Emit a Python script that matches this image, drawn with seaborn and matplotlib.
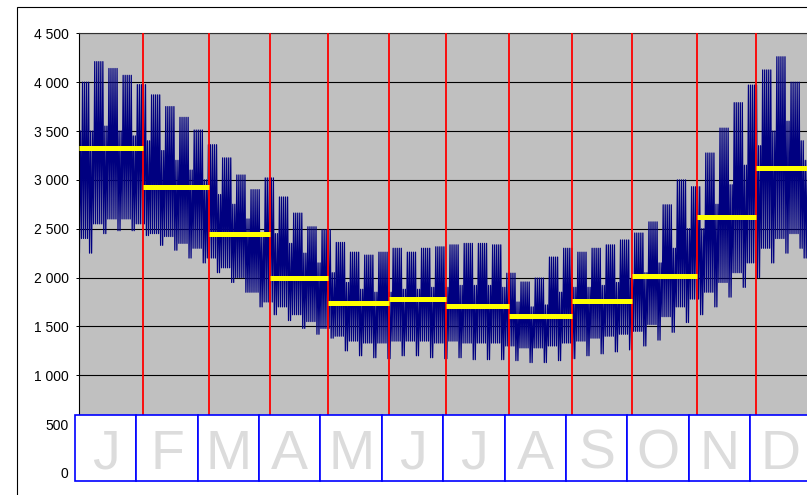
import numpy as np
import pandas as pd
import matplotlib
matplotlib.use("Agg")
import matplotlib.pyplot as plt
from matplotlib.patches import Rectangle
from matplotlib.ticker import FuncFormatter, MultipleLocator
import seaborn as sns

# weekly envelope of the hourly load (53 weeks, Mon-Sun)
wk_hi = [4000, 4210, 4140, 4070, 3975, 3870, 3750, 3640, 3510, 3360, 3225, 3050, 2900,
         3020, 2825, 2660, 2520, 2490, 2360, 2260, 2230, 2260, 2300, 2260, 2300, 2315,
         2335, 2350, 2350, 2335, 2045, 1955, 1995, 2210, 2300, 2260, 2300, 2335, 2385,
         2456, 2570, 2745, 3000, 2930, 3275, 3530, 3790, 3970, 4125, 4260, 4000, 3685, 3600]
wk_lo = [2400, 2550, 2600, 2600, 2550, 2450, 2420, 2350, 2300, 2200, 2100, 2000, 1850,
         1750, 1700, 1620, 1550, 1480, 1400, 1350, 1330, 1330, 1350, 1350, 1350, 1330,
         1350, 1330, 1330, 1330, 1300, 1280, 1280, 1300, 1330, 1350, 1380, 1400, 1420,
         1450, 1520, 1600, 1700, 1780, 1850, 1950, 2050, 2150, 2300, 2400, 2450, 2350, 2350]
we_hi = [3500, 3550, 3500, 3450, 3400, 3300, 3200, 3100, 3000, 2850, 2750, 2600, 2450,
         2450, 2350, 2250, 2150, 2050, 1950, 1880, 1850, 1850, 1880, 1880, 1900, 1900,
         1920, 1920, 1920, 1900, 1750, 1700, 1720, 1850, 1900, 1900, 1920, 1950, 1980,
         2050, 2150, 2300, 2500, 2500, 2750, 2950, 3150, 3350, 3500, 3600, 3400, 3200, 3200]
we_lo = [2250, 2450, 2480, 2480, 2430, 2330, 2280, 2200, 2150, 2050, 1950, 1850, 1700,
         1620, 1560, 1480, 1420, 1380, 1250, 1200, 1180, 1170, 1200, 1200, 1180, 1170,
         1180, 1160, 1160, 1160, 1150, 1130, 1130, 1150, 1170, 1200, 1220, 1240, 1260,
         1300, 1360, 1440, 1540, 1620, 1700, 1800, 1900, 2000, 2150, 2250, 2300, 2200, 2200]
holidays = [0, 357, 358]

months = ["J", "F", "M", "A", "M", "J", "J", "A", "S", "O", "N", "D"]
month_mean = [3326, 2927, 2441, 1996, 1740, 1781, 1709, 1607, 1760, 2016, 2620, 3125]
month_edges = [0, 31.5, 64, 94, 122.7, 152.7, 180.8, 211.8, 242.9, 272.4, 304.4, 333.5, 365]

# one low and one high point per day
xs, ys = [], []
for d in range(365):
    w = d // 7
    off = d % 7 >= 5 or d in holidays
    xs += [d + 0.2, d + 0.75]
    ys += [we_lo[w] if off else wk_lo[w], we_hi[w] if off else wk_hi[w]]
load = pd.DataFrame({"day": xs, "load": ys})

sns.set_style("ticks")
plt.rcParams["font.family"] = ["Liberation Sans", "DejaVu Sans"]

W, H = 807, 495
fig = plt.figure(figsize=(W / 100, H / 100), dpi=100)
fig.patch.set_facecolor("white")
ax = fig.add_axes([79 / W, 22 / H, 741 / W, 439.7 / H])
ax.set_facecolor("#c0c0c0")

sns.lineplot(data=load, x="day", y="load", sort=False, estimator=None,
             color="#000080", lw=0.9, ax=ax, zorder=2)

for e in month_edges[1:-1]:
    ax.axvline(e, color="#ff0000", lw=1.3, zorder=3)
ax.hlines(month_mean, month_edges[:-1], month_edges[1:], color="#ffff00", lw=3.6, zorder=4)

ax.set_xlim(0, 365)
ax.set_ylim(0, 4500)
ax.yaxis.set_major_locator(MultipleLocator(500))
ax.yaxis.set_major_formatter(FuncFormatter(lambda v, p: f"{v:,.0f}".replace(",", " ")))
ax.grid(axis="y", color="black", lw=0.8, zorder=1)
ax.grid(axis="x", visible=False)
ax.set_axisbelow(True)
ax.set_xticks([])
ax.set_xlabel("")
ax.set_ylabel("")
ax.tick_params(axis="y", length=2.5, width=0.7, color="black", pad=5,
               labelsize=10, labelcolor="black")
for s in ["right", "bottom"]:
    ax.spines[s].set_visible(False)
ax.spines["left"].set_color("black")
ax.spines["left"].set_linewidth(0.8)
ax.spines["top"].set_color("#303030")
ax.spines["top"].set_linewidth(0.8)

# month letter boxes across the bottom
px_day = 741 / 365
box_w = 61.36 / px_day
box_x0 = -4 / px_day
for i, m in enumerate(months):
    x0 = box_x0 + i * box_w
    ax.add_patch(Rectangle((x0, -79), box_w, 676, facecolor="white", edgecolor="#0000ff",
                           lw=1.2, clip_on=False, zorder=10))
    ax.text(x0 + box_w / 2, 41, m, ha="center", va="baseline", fontsize=40,
            color="#dcdcdc", zorder=11, clip_on=False)

# outer chart frame
fig.patches.append(Rectangle((17 / W, -0.1), 2, (H - 7.3) / H + 0.1, fill=False,
                             edgecolor="black", lw=0.8, transform=fig.transFigure))

fig.savefig("out.png", dpi=100)
